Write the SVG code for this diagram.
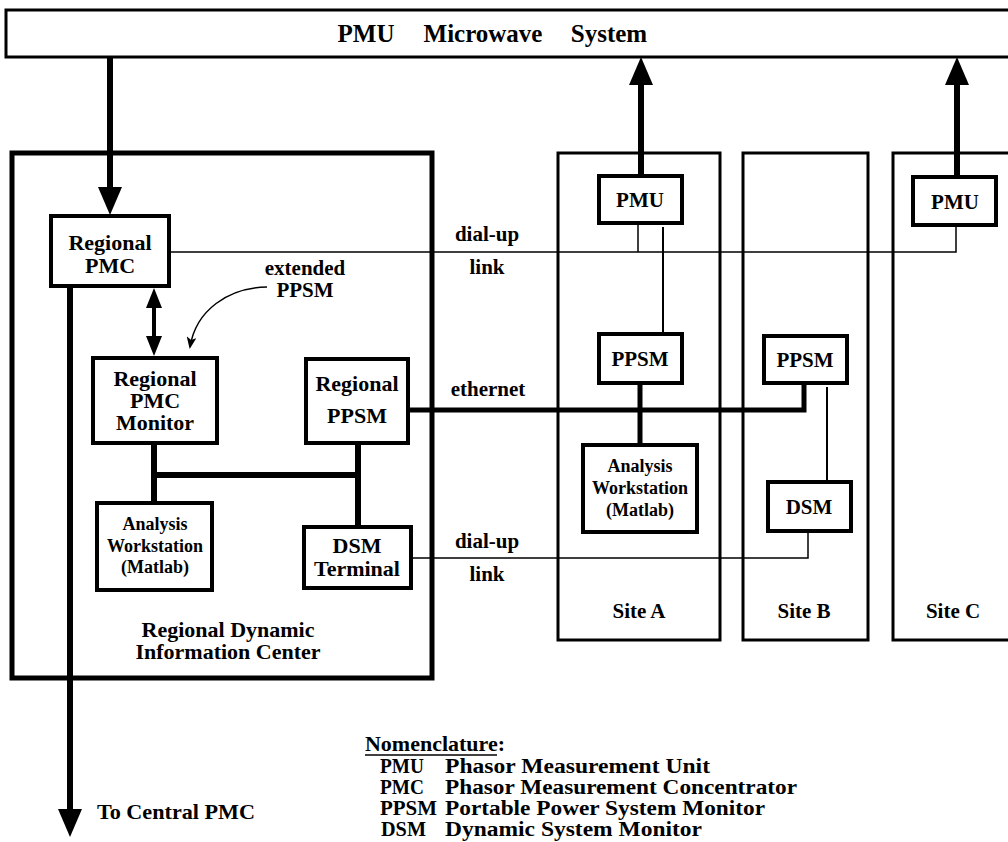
<svg xmlns="http://www.w3.org/2000/svg" width="1008" height="842" viewBox="0 0 1008 842">
<style>
text{font-family:"Liberation Serif","Times New Roman",serif;font-weight:bold;fill:#000;text-anchor:middle}
.t22{font-size:22px}
.t21{font-size:21px}
.t20{font-size:20px}
.t18{font-size:18px}
.t25{font-size:25px}
.lft{text-anchor:start}
.box{fill:#fff;stroke:#000;stroke-width:4}
.site{fill:none;stroke:#000;stroke-width:3}
.thin{fill:none;stroke:#000;stroke-width:1.5}
.med{fill:none;stroke:#000;stroke-width:2}
.thick{fill:none;stroke:#000;stroke-width:6}
.eth{fill:none;stroke:#000;stroke-width:5}
</style>
<defs>
<marker id="big" markerUnits="userSpaceOnUse" markerWidth="28" markerHeight="24" viewBox="0 0 28 24" refX="8" refY="12" orient="auto">
<path d="M0,0 L28,12 L0,24 z" fill="#000"/>
</marker>
<marker id="mid" markerUnits="userSpaceOnUse" markerWidth="20" markerHeight="16" viewBox="0 0 20 16" refX="6" refY="8" orient="auto-start-reverse">
<path d="M0,0 L20,8 L0,16 z" fill="#000"/>
</marker>
<marker id="small" markerUnits="userSpaceOnUse" markerWidth="12" markerHeight="10" viewBox="0 0 12 10" refX="10" refY="5" orient="auto">
<path d="M0,0 L12,5 L0,10 L3,5 z" fill="#000"/>
</marker>
</defs>

<g id="microwave-system">
<rect x="6" y="10" width="1010" height="47" fill="#fff" stroke="#000" stroke-width="3"/>
<text class="t25" x="366" y="42">PMU</text>
<text class="t25" x="483" y="42">Microwave</text>
<text class="t25" x="609" y="42">System</text>
</g>

<g id="regional-center">
<rect x="12" y="153" width="420" height="525" fill="none" stroke="#000" stroke-width="5"/>
<text class="t22" x="228" y="637">Regional Dynamic</text>
<text class="t22" x="228" y="659">Information Center</text>
</g>

<g id="site-a">
<rect class="site" x="558" y="153" width="162" height="487"/>
<text class="t21" x="639" y="618">Site A</text>
</g>
<g id="site-b">
<rect class="site" x="743" y="153" width="125" height="487"/>
<text class="t21" x="804" y="618">Site B</text>
</g>
<g id="site-c">
<rect class="site" x="893" y="153" width="130" height="487"/>
<text class="t21" x="953" y="618">Site C</text>
</g>

<g id="connectors">
<line class="thick" x1="110" y1="57" x2="110" y2="195" marker-end="url(#big)"/>
<line class="thick" x1="70" y1="286" x2="70" y2="817" marker-end="url(#big)"/>
<line class="thick" x1="641" y1="176" x2="641" y2="77" marker-end="url(#big)"/>
<line class="thick" x1="957" y1="177" x2="957" y2="77" marker-end="url(#big)"/>
<line x1="154" y1="302" x2="154" y2="342" stroke="#000" stroke-width="4" marker-start="url(#mid)" marker-end="url(#mid)"/>
<path class="thin" d="M169,252 H956 V225 M638,223 V252"/>
<path class="med" d="M663,227 V334"/>
<path class="med" d="M827,387 V482"/>
<path class="thin" d="M411,558 H808 V531"/>
<path class="eth" d="M409,410 H804 V383"/>
<path class="eth" d="M640,383 V445"/>
<path class="thick" d="M154,443 V503 M154,475 H358 M358,443 V527"/>
<path class="thin" d="M267,287 C228,288 196,310 190,347" marker-end="url(#small)"/>
<text class="t21" x="487" y="241">dial-up</text>
<text class="t21" x="487" y="274">link</text>
<text class="t21" x="488" y="396">ethernet</text>
<text class="t21" x="487" y="548">dial-up</text>
<text class="t21" x="487" y="581">link</text>
<text class="t21" x="305" y="275">extended</text>
<text class="t21" x="305" y="297">PPSM</text>
<text class="t22 lft" x="97" y="819" textLength="158" lengthAdjust="spacingAndGlyphs">To Central PMC</text>
</g>

<g id="regional-pmc">
<rect class="box" x="51" y="216" width="118" height="70"/>
<text class="t22" x="110" y="250">Regional</text>
<text class="t22" x="110" y="273">PMC</text>
</g>
<g id="regional-pmc-monitor">
<rect class="box" x="93" y="358" width="124" height="85"/>
<text class="t22" x="155" y="386">Regional</text>
<text class="t22" x="155" y="408">PMC</text>
<text class="t22" x="155" y="430">Monitor</text>
</g>
<g id="regional-ppsm">
<rect class="box" x="306" y="359" width="102" height="84"/>
<text class="t22" x="357" y="391">Regional</text>
<text class="t22" x="357" y="423">PPSM</text>
</g>
<g id="analysis-regional">
<rect class="box" x="97" y="503" width="115" height="87"/>
<text class="t18" x="155" y="530">Analysis</text>
<text class="t18" x="155" y="552">Workstation</text>
<text class="t18" x="155" y="573">(Matlab)</text>
</g>
<g id="dsm-terminal">
<rect class="box" x="304" y="527" width="107" height="61"/>
<text class="t22" x="357" y="553">DSM</text>
<text class="t22" x="357" y="576">Terminal</text>
</g>
<g id="pmu-a">
<rect class="box" x="599" y="176" width="83" height="47"/>
<text class="t21" x="640" y="207">PMU</text>
</g>
<g id="pmu-c">
<rect class="box" x="913" y="177" width="83" height="48"/>
<text class="t21" x="955" y="209">PMU</text>
</g>
<g id="ppsm-a">
<rect class="box" x="599" y="334" width="83" height="49"/>
<text class="t21" x="640" y="366">PPSM</text>
</g>
<g id="ppsm-b">
<rect class="box" x="764" y="336" width="83" height="47"/>
<text class="t21" x="805" y="367">PPSM</text>
</g>
<g id="analysis-a">
<rect class="box" x="583" y="445" width="114" height="87"/>
<text class="t18" x="640" y="472">Analysis</text>
<text class="t18" x="640" y="494">Workstation</text>
<text class="t18" x="640" y="516">(Matlab)</text>
</g>
<g id="dsm-b">
<rect class="box" x="768" y="482" width="83" height="49"/>
<text class="t21" x="809" y="514">DSM</text>
</g>

<g id="nomenclature">
<text class="t21 lft" x="365" y="751" textLength="140" lengthAdjust="spacingAndGlyphs">Nomenclature:</text>
<line x1="365" y1="755" x2="497" y2="755" stroke="#000" stroke-width="1.5"/>
<text class="t20 lft" x="380" y="773" textLength="44" lengthAdjust="spacingAndGlyphs">PMU</text>
<text class="t20 lft" x="380" y="794" textLength="44" lengthAdjust="spacingAndGlyphs">PMC</text>
<text class="t20 lft" x="380" y="815" textLength="57" lengthAdjust="spacingAndGlyphs">PPSM</text>
<text class="t20 lft" x="381" y="836" textLength="45" lengthAdjust="spacingAndGlyphs">DSM</text>
<text class="t20 lft" x="445" y="773" textLength="265" lengthAdjust="spacingAndGlyphs">Phasor Measurement Unit</text>
<text class="t20 lft" x="445" y="794" textLength="352" lengthAdjust="spacingAndGlyphs">Phasor Measurement Concentrator</text>
<text class="t20 lft" x="445" y="815" textLength="320" lengthAdjust="spacingAndGlyphs">Portable Power System Monitor</text>
<text class="t20 lft" x="445" y="836" textLength="257" lengthAdjust="spacingAndGlyphs">Dynamic System Monitor</text>
</g>
</svg>
